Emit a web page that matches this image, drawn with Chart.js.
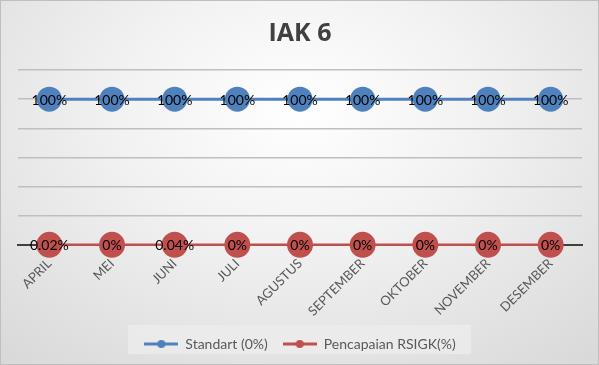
<!DOCTYPE html>
<html><head><meta charset="utf-8">
<script src="https://cdn.jsdelivr.net/npm/chart.js@4/dist/chart.umd.min.js"></script>
<style>
html,body{margin:0;padding:0;}
#wrap{position:relative;width:597px;height:363px;border:1px solid #bfbfbf;
background:radial-gradient(ellipse 75% 90% at 50% 30%, #ffffff 0%, #f2f2f2 40%, #d9d9d9 100%);}
canvas{position:absolute;left:0;top:0;}
</style></head><body>
<div id="wrap"><canvas id="c" width="597" height="363"></canvas></div>
<script>
const categories = ["APRIL","MEI","JUNI","JULI","AGUSTUS","SEPTEMBER","OKTOBER","NOVEMBER","DESEMBER"];
const standart = [100,100,100,100,100,100,100,100,100];
const pencapaian = [0.02,0,0.04,0,0,0,0,0,0];
const yTicks = [0,20,40,60,80,100,120];
const seriesNames = ["Standart (0%)","Pencapaian RSIGK(%)"];
const FONT = "Lato,sans-serif";

function legendIcon(color){
  const c=document.createElement('canvas');c.width=34;c.height=10;
  const x=c.getContext('2d');
  x.strokeStyle=color;x.lineWidth=3;x.beginPath();x.moveTo(0,5);x.lineTo(34,5);x.stroke();
  x.fillStyle=color;x.beginPath();x.arc(17,5,4,0,Math.PI*2);x.fill();
  return c;
}
const icons=[legendIcon('#4f81bd'),legendIcon('#c0504d')];

const labelPlugin={
  id:'vlabels',
  afterDatasetsDraw(chart){
    const ctx=chart.ctx;
    ctx.save();
    ctx.font="14px "+FONT;ctx.fillStyle='#000';ctx.textAlign='center';ctx.textBaseline='middle';
    chart.data.datasets.forEach((ds,i)=>{
      chart.getDatasetMeta(i).data.forEach((pt,j)=>{
        ctx.fillText(ds.data[j]+'%',pt.x,pt.y+1);
      });
    });
    ctx.restore();
  }
};
const legendBg={
  id:'legendBg',
  beforeDraw(chart){
    const ctx=chart.ctx;ctx.save();ctx.fillStyle='rgba(235,235,235,0.9)';
    ctx.fillRect(127,324,343,29);ctx.restore();
  }
};

new Chart(document.getElementById('c'),{
  type:'line',
  data:{labels:categories,datasets:[
    {label:seriesNames[0],data:standart,borderColor:'#4f81bd',backgroundColor:'#4f81bd',borderWidth:3,pointRadius:12.5,pointHoverRadius:12.5,pointBorderWidth:0,clip:false},
    {label:seriesNames[1],data:pencapaian,borderColor:'#c0504d',backgroundColor:'#c0504d',borderWidth:2.5,pointRadius:13,pointHoverRadius:13,pointBorderWidth:0,clip:false}
  ]},
  options:{
    responsive:false,animation:false,
    layout:{padding:{left:17,right:16,top:0,bottom:3}},
    plugins:{
      title:{display:true,text:'IAK 6',color:'#404040',font:{family:"'Open Sans',sans-serif",size:25,weight:'bold'},padding:{top:18,bottom:21}},
      legend:{position:'bottom',labels:{usePointStyle:true,pointStyleWidth:34,boxHeight:10,color:'#595959',font:{family:FONT,size:14},padding:15,
        generateLabels(chart){return chart.data.datasets.map((d,i)=>({text:d.label,pointStyle:icons[i],fillStyle:d.borderColor,strokeStyle:d.borderColor,lineWidth:0,fontColor:'#595959',datasetIndex:i,hidden:false}));}}},
      tooltip:{enabled:false}
    },
    scales:{
      x:{offset:true,grid:{display:false},border:{display:true,color:'#404040',width:2},
        ticks:{color:'#595959',font:{family:FONT,size:13},maxRotation:45,minRotation:45,padding:3}},
      y:{min:0,max:120,afterBuildTicks(s){s.ticks=yTicks.map(v=>({value:v}));},
        ticks:{display:false},border:{display:false},grid:{color:'#bfbfbf',lineWidth:1.5,drawTicks:false}}
    }
  },
  plugins:[labelPlugin,legendBg]
});
</script></body></html>
